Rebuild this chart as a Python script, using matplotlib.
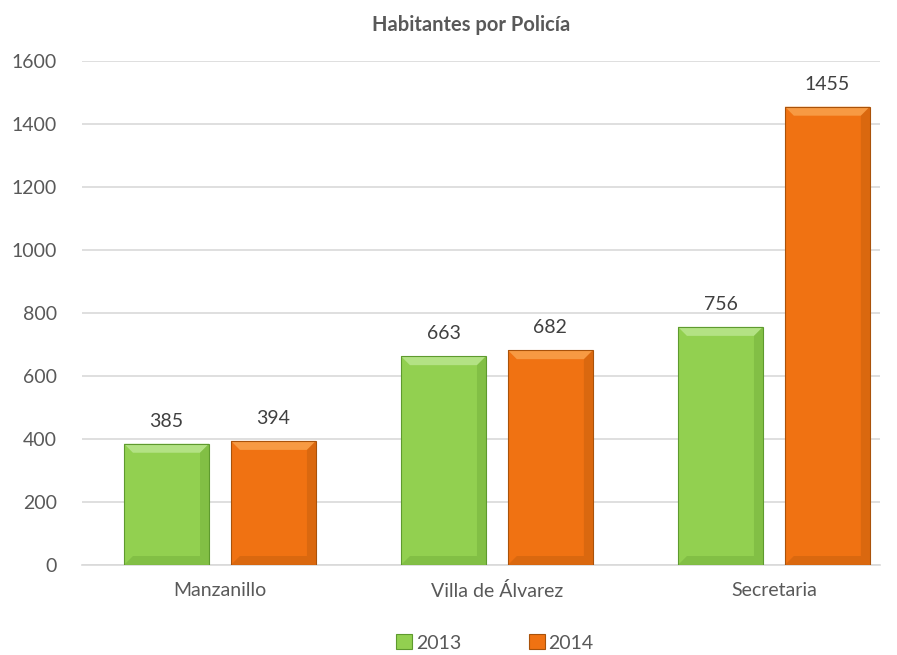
import matplotlib.pyplot as plt
from matplotlib.patches import Polygon, Patch

plt.rcParams['font.family'] = ['Lato', 'DejaVu Sans']

categories = ['Manzanillo', 'Villa de Álvarez', 'Secretaria']
years = ['2013', '2014']
vals_2013 = [385, 663, 756]
vals_2014 = [394, 682, 1455]

colors = {'2013': '#92D050', '2014': '#F07212'}
light = {'2013': '#B9E68E', '2014': '#F9A24C'}
dark = {'2013': '#5E9A2E', '2014': '#A9520A'}

fig = plt.figure(figsize=(8.97, 6.55), dpi=100)
ax = fig.add_axes([82 / 897, 1 - 565 / 655, 798 / 897, (565 - 61) / 655])

width = 0.307
offset = 0.193
x = list(range(len(categories)))

# pixel -> data scale for bevel sizes
px_x = 1 / 277
px_y = 1600 / 504
bev = 9

for year, vals, sign in [('2013', vals_2013, -1), ('2014', vals_2014, 1)]:
    pos = [i + sign * offset for i in x]
    bars = ax.bar(pos, vals, width, color=colors[year], edgecolor='none', zorder=3)
    for b, v in zip(bars, vals):
        x0, x1 = b.get_x(), b.get_x() + b.get_width()
        h = b.get_height()
        bx, by = bev * px_x, bev * px_y
        # top bevel (light)
        ax.add_patch(Polygon([(x0, h), (x1, h), (x1 - bx, h - by), (x0 + bx, h - by)],
                             closed=True, color=light[year], alpha=0.85, lw=0, zorder=4))
        # right bevel (dark)
        ax.add_patch(Polygon([(x1, h), (x1 - bx, h - by), (x1 - bx, by), (x1, 0)],
                             closed=True, color=dark[year], alpha=0.3, lw=0, zorder=4))
        # bottom bevel (dark)
        ax.add_patch(Polygon([(x0, 0), (x1, 0), (x1 - bx, by), (x0 + bx, by)],
                             closed=True, color=dark[year], alpha=0.3, lw=0, zorder=4))
        # thin outline
        ax.add_patch(Polygon([(x0, 0), (x0, h), (x1, h), (x1, 0)], closed=True,
                             fill=False, edgecolor=dark[year], lw=0.8, zorder=5))
        ax.annotate(f'{v}', (b.get_x() + b.get_width() / 2, h), xytext=(0, 10),
                    textcoords='offset points', ha='center', va='bottom',
                    fontsize=14, color='#404040')

ax.set_xlim(-0.498, 2.383)
ax.set_ylim(0, 1600)
ax.set_yticks(range(0, 1601, 200))
ax.set_xticks(x)
ax.set_xticklabels(categories)
ax.tick_params(axis='both', length=0, labelsize=14, colors='#595959')
ax.tick_params(axis='y', pad=18)
ax.tick_params(axis='x', pad=12)
ax.grid(axis='y', color='#D9D9D9', lw=1.2, zorder=0)
ax.set_axisbelow(True)
for s in ['top', 'right', 'left']:
    ax.spines[s].set_visible(False)
ax.spines['bottom'].set_color('#D9D9D9')
ax.spines['bottom'].set_linewidth(1.2)

fig.text(471 / 897, 1 - 25 / 655, 'Habitantes por Policía', ha='center', va='center',
         fontsize=14.5, fontweight='bold', color='#595959')

handles = [Patch(facecolor=colors[y], edgecolor=dark[y], lw=0.8) for y in years]
fig.legend(handles, years, loc='center', bbox_to_anchor=(495 / 897, 1 - 643 / 655),
           ncol=2, frameon=False, fontsize=14, labelcolor='#595959',
           handlelength=0.8, handleheight=0.8, handletextpad=0.2, columnspacing=3.5)

fig.savefig('out.png', dpi=100)
